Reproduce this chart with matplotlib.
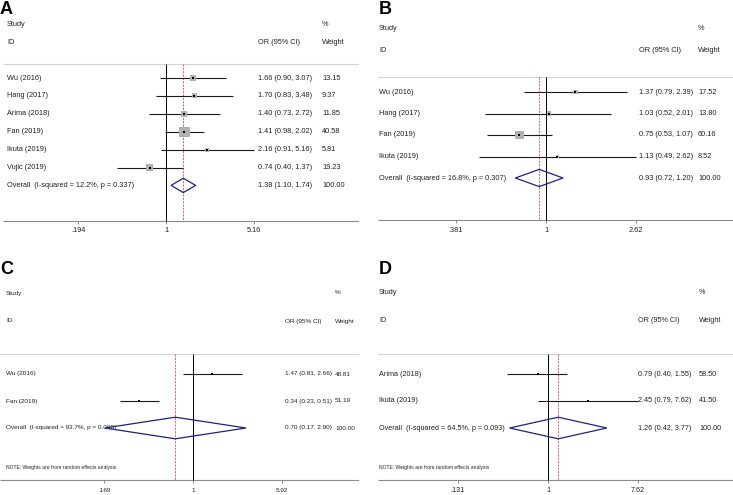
import numpy as np
import matplotlib.pyplot as plt
from matplotlib.patches import Polygon

plt.rcParams['font.family'] = ['Liberation Sans', 'DejaVu Sans']

W, H = 733, 495

# Painel A
a_studies = ['Wu (2016)', 'Hang (2017)', 'Arima (2018)', 'Fan (2019)', 'Ikuta (2019)', 'Vujic (2019)']
a_or = [1.66, 1.70, 1.40, 1.41, 2.16, 0.74]
a_lo = [0.90, 0.83, 0.73, 0.98, 0.91, 0.40]
a_hi = [3.07, 3.48, 2.72, 2.02, 5.16, 1.37]
a_wt = [13.15, 9.37, 11.85, 40.58, 5.81, 19.23]
a_overall = [1.38, 1.10, 1.74]
a_i2, a_p = 12.2, 0.337
a_ticks = [0.194, 1, 5.16]

# Painel B
b_studies = ['Wu (2016)', 'Hang (2017)', 'Fan (2019)', 'Ikuta (2019)']
b_or = [1.37, 1.03, 0.75, 1.13]
b_lo = [0.79, 0.52, 0.53, 0.49]
b_hi = [2.39, 2.01, 1.07, 2.62]
b_wt = [17.52, 13.80, 60.16, 8.52]
b_overall = [0.93, 0.72, 1.20]
b_i2, b_p = 16.8, 0.307
b_ticks = [0.381, 1, 2.62]

# Painel C
c_studies = ['Wu (2016)', 'Fan (2019)']
c_or = [1.47, 0.34]
c_lo = [0.81, 0.23]
c_hi = [2.66, 0.51]
c_wt = [48.81, 51.19]
c_overall = [0.70, 0.17, 2.90]
c_i2, c_p = 93.7, 0.000
c_ticks = [0.169, 1, 5.92]

# Painel D
d_studies = ['Arima (2018)', 'Ikuta (2019)']
d_or = [0.79, 2.45]
d_lo = [0.40, 0.79]
d_hi = [1.55, 7.62]
d_wt = [58.50, 41.50]
d_overall = [1.26, 0.42, 3.77]
d_i2, d_p = 64.5, 0.093
d_ticks = [0.131, 1, 7.62]

NOTE = 'NOTE: Weights are from random effects analysis'

fig = plt.figure(figsize=(W / 100, H / 100), dpi=100)


def txt(px, py, s, size=5.3, **kw):
    fig.text(px / W, 1 - py / H, s, fontsize=size, va='center', color='#222222', **kw)


def painel(lay, studies, orr, lo, hi, wt, overall, i2, p, ticks, nota=False):
    x0, x1 = lay['x0'], lay['x1']
    y0, y1 = lay['top'], lay['bottom']
    ax = fig.add_axes([x0 / W, 1 - y1 / H, (x1 - x0) / W, (y1 - y0) / H])
    ax.set_xscale('log')
    xmin = np.exp((x0 - lay['one']) / lay['ppl'])
    xmax = np.exp((x1 - lay['one']) / lay['ppl'])
    ax.set_xlim(xmin, xmax)
    ax.set_ylim(y1, y0)
    ax.axis('off')

    n = len(studies)
    ys = lay['row1'] + lay['dy'] * np.arange(n + 1)
    sz = lay['size']

    # linhas de referencia
    ax.hlines(lay['line'], xmin, xmax, color='#d4d4d4', lw=0.8)
    ax.hlines(lay['axis'], xmin, xmax, color='#8c8c8c', lw=0.8)
    ax.vlines(ticks, lay['axis'], lay['axis'] + 3, color='#8c8c8c', lw=0.7)
    for t in ticks:
        ax.text(t, lay['ticklab'], ('%g' % t).lstrip('0'), ha='center', va='center',
                fontsize=sz, color='#222222')
    ax.vlines(1, lay['line'], lay['axis'], color='black', lw=0.7)
    ax.vlines(overall[0], lay['line'], lay['axis'], color='#cc4c4c', lw=0.6,
              linestyles=(0, (2.5, 1.5)))

    # estudos
    ax.hlines(ys[:n], lo, hi, color='#1a1a1a', lw=0.8)
    if lay['box'] > 0:
        side = lay['box'] * np.sqrt(wt) * 0.72
        ax.scatter(orr, ys[:n], marker='s', s=side ** 2, color='#b0b0b0', lw=0, zorder=3)
    ax.scatter(orr, ys[:n], marker='s', s=3.5, color='black', lw=0, zorder=4)

    # diamante do efeito global
    h = 0.4 * lay['dy']
    yo = ys[n]
    dia = Polygon([(overall[1], yo), (overall[0], yo - h), (overall[2], yo), (overall[0], yo + h)],
                  closed=True, fill=False, edgecolor='#20208c', lw=0.9, zorder=5)
    ax.add_patch(dia)

    # textos
    fig.text(lay['letter_x'] / W, 1 - lay['letter_y'] / H, lay['letter'], fontsize=13,
             fontweight='bold', va='center', color='black')
    txt(lay['lab'], lay['study_y'], 'Study', size=sz)
    txt(lay['lab'], lay['id_y'], 'ID', size=sz)
    txt(lay['ci'], lay['id_y'], 'OR (95% CI)', size=sz)
    txt(lay['w'], lay['study_y'], '%', size=sz)
    txt(lay['w'], lay['id_y'], 'Weight', size=sz)
    for i in range(n):
        txt(lay['lab'], ys[i], studies[i], size=sz)
        txt(lay['ci'], ys[i], f'{orr[i]:.2f} ({lo[i]:.2f}, {hi[i]:.2f})', size=sz)
        txt(lay['w'], ys[i], f'{wt[i]:.2f}', size=sz)
    txt(lay['lab'], yo, f'Overall  (I-squared = {i2:.1f}%, p = {p:.3f})', size=sz)
    txt(lay['ci'], yo, f'{overall[0]:.2f} ({overall[1]:.2f}, {overall[2]:.2f})', size=sz)
    txt(lay['w'], yo, '100.00', size=sz)
    if nota:
        txt(lay['lab'], lay['note_y'], NOTE, size=3.6)


lay_a = dict(letter='A', letter_x=0, letter_y=9, x0=3, x1=359, top=15, bottom=240,
             one=166, ppl=53.6, row1=78, dy=17.9, line=64, axis=221, ticklab=231,
             study_y=24, id_y=43, lab=7, ci=258, w=322, box=1.6, size=5.3)
lay_b = dict(letter='B', letter_x=379, letter_y=9, x0=378, x1=733, top=15, bottom=240,
             one=546, ppl=93.4, row1=92, dy=21.5, line=77, axis=220, ticklab=230,
             study_y=28, id_y=50, lab=379, ci=639, w=698, box=1.15, size=5.3)
lay_c = dict(letter='C', letter_x=0, letter_y=270, x0=0, x1=359, top=280, bottom=495,
             one=193, ppl=49.8, row1=374, dy=27, line=354, axis=480, ticklab=490,
             study_y=293, id_y=321, note_y=468, lab=6, ci=285, w=335, box=0, size=4.6)
lay_d = dict(letter='D', letter_x=379, letter_y=270, x0=378, x1=733, top=280, bottom=495,
             one=548, ppl=44.3, row1=374, dy=27, line=354, axis=480, ticklab=490,
             study_y=293, id_y=321, note_y=468, lab=379, ci=638, w=699, box=0, size=5.2)

painel(lay_a, a_studies, a_or, a_lo, a_hi, a_wt, a_overall, a_i2, a_p, a_ticks)
painel(lay_b, b_studies, b_or, b_lo, b_hi, b_wt, b_overall, b_i2, b_p, b_ticks)
painel(lay_c, c_studies, c_or, c_lo, c_hi, c_wt, c_overall, c_i2, c_p, c_ticks, nota=True)
painel(lay_d, d_studies, d_or, d_lo, d_hi, d_wt, d_overall, d_i2, d_p, d_ticks, nota=True)

plt.savefig('out.png', dpi=100)
